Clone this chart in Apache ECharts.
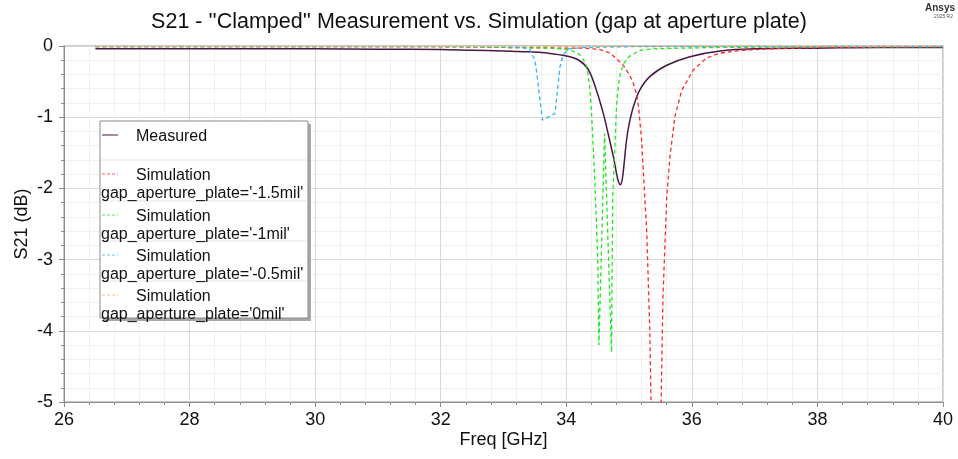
<!DOCTYPE html>
<html><head><meta charset="utf-8">
<script src="https://cdn.jsdelivr.net/npm/echarts@6/dist/echarts.min.js"></script>
<style>html,body{margin:0;padding:0;background:#fff}#c{width:958px;height:459px}</style>
</head><body><div id="c"></div>
<script>
const chartTitle = "S21 - ''Clamped'' Measurement vs. Simulation (gap at aperture plate)";
const xAxisName = "Freq [GHz]";
const yAxisName = "S21 (dB)";
const seriesNames = ["Measured", "gap_aperture_plate='-1.5mil'", "gap_aperture_plate='-1mil'", "gap_aperture_plate='-0.5mil'", "gap_aperture_plate='0mil'"];
const legendFirstLines = ["Measured", "Simulation", "Simulation", "Simulation", "Simulation"];
const seriesColors = ["#4a1846", "#ff2a2a", "#1ee81e", "#33b5ee", "#f5ad5f"];

const measFreq = [26.5, 27, 28, 29, 30, 31, 32, 32.5, 33, 33.4, 33.7, 34.0, 34.2, 34.35, 34.48, 34.59, 34.69, 34.76, 34.80, 34.83, 34.86, 34.89, 34.92, 34.96, 35.0, 35.07, 35.17, 35.33, 35.6, 35.97, 36.45, 37, 38, 39, 40];
const measS21 = [-0.04, -0.04, -0.04, -0.04, -0.04, -0.045, -0.05, -0.06, -0.07, -0.08, -0.1, -0.14, -0.2, -0.33, -0.62, -0.95, -1.32, -1.6, -1.79, -1.9, -1.95, -1.88, -1.66, -1.32, -1.1, -0.85, -0.62, -0.43, -0.27, -0.15, -0.07, -0.04, -0.03, -0.02, -0.02];

const sim15Freq = [26.5, 28, 30, 32, 33, 34, 34.3, 34.54, 34.7, 34.8, 34.9, 34.96, 35.02, 35.07, 35.12, 35.15, 35.2, 35.25, 35.28, 35.33, 35.43, 35.54, 35.6, 35.65, 35.73, 35.84, 36.02, 36.23, 36.45, 36.8, 37.5, 38.5, 40];
const sim15S21 = [-0.01, -0.01, -0.01, -0.01, -0.02, -0.03, -0.03, -0.05, -0.1, -0.18, -0.26, -0.34, -0.43, -0.53, -0.68, -0.85, -1.32, -2.12, -2.58, -3.99, -9, -3.52, -2.12, -1.56, -0.99, -0.62, -0.34, -0.17, -0.1, -0.06, -0.03, -0.02, -0.01];

const sim10Freq = [26.5, 28, 30, 32, 33, 33.8, 34.0, 34.1, 34.2, 34.28, 34.33, 34.37, 34.40, 34.45, 34.50, 34.52, 34.61, 34.72, 34.74, 34.77, 34.80, 34.83, 34.86, 34.91, 35.0, 35.17, 35.4, 35.8, 36.5, 38, 40];
const sim10S21 = [-0.01, -0.01, -0.01, -0.01, -0.02, -0.03, -0.05, -0.07, -0.11, -0.2, -0.3, -0.55, -0.9, -1.79, -2.96, -4.2, -1.23, -4.3, -2.12, -1.5, -0.85, -0.55, -0.39, -0.25, -0.15, -0.06, -0.04, -0.03, -0.02, -0.01, -0.01];

const sim05Freq = [26.5, 28, 30, 32, 33, 33.3, 33.42, 33.5, 33.53, 33.62, 33.82, 33.9, 33.95, 34.03, 34.3, 35, 36, 38, 40];
const sim05S21 = [-0.01, -0.01, -0.01, -0.01, -0.01, -0.02, -0.05, -0.2, -0.38, -1.04, -0.95, -0.29, -0.13, -0.04, -0.02, -0.01, -0.01, -0.01, -0.01];

const sim00Freq = [26.5, 28, 30, 32, 34, 36, 38, 40];
const sim00S21 = [-0.005, -0.005, -0.005, -0.005, -0.005, -0.005, -0.005, -0.005];

const zip = (xs, ys) => xs.map((x, i) => [x, ys[i]]);
const seriesData = [zip(measFreq, measS21), zip(sim15Freq, sim15S21), zip(sim10Freq, sim10S21), zip(sim05Freq, sim05S21), zip(sim00Freq, sim00S21)];

const FONT = "'Liberation Sans', Arial, sans-serif";
const dash = [4, 3];

const series = seriesData.map((d, i) => ({
  name: seriesNames[i], type: 'line', data: d, showSymbol: false, symbol: 'none', clip: true,
  animation: false, z: 2 + i,
  smooth: i === 0 ? 0.35 : false,
  lineStyle: { color: seriesColors[i], width: i === 0 ? 1.5 : 1.3, type: i === 0 ? 'solid' : dash }
}));

// legend built as graphic
const lg = { x: 100, y: 121, w: 208, h: 197 };
const rowTops = [121, 160, 201, 241, 281];
const graphics = [
  { type: 'rect', shape: { x: lg.x + 3, y: lg.y + 3, width: lg.w, height: lg.h }, style: { fill: '#a8a8a8' }, z: 100 },
  { type: 'rect', shape: { x: lg.x, y: lg.y, width: lg.w, height: lg.h }, style: { fill: '#fff', stroke: '#8a8a8a', lineWidth: 1 }, z: 101 }
];
rowTops.slice(1).forEach(t => graphics.push({ type: 'line', shape: { x1: lg.x + 1, y1: t, x2: lg.x + lg.w - 1, y2: t }, style: { stroke: '#e4e4e4', lineWidth: 1 }, z: 102 }));
seriesNames.forEach((n, i) => {
  const y1 = rowTops[i] + 15;
  graphics.push({ type: 'line', shape: { x1: lg.x + 2, y1: y1 - 1, x2: lg.x + 18, y2: y1 - 1 }, style: { stroke: seriesColors[i], lineWidth: 1, lineDash: i === 0 ? null : [3, 2], opacity: i === 0 ? 1 : 0.75 }, z: 103 });
  graphics.push({ type: 'text', x: lg.x + 36, y: y1 + 1, style: { text: legendFirstLines[i], font: "16px " + FONT, fill: '#111', verticalAlign: 'middle' }, z: 103 });
  if (i > 0) graphics.push({ type: 'text', x: lg.x + 1, y: y1 + 19, style: { text: n, font: "16px " + FONT, fill: '#111', verticalAlign: 'middle' }, z: 103 });
});
graphics.push({ type: 'text', x: 955, y: 3, style: { text: 'Ansys', font: "bold 10px " + FONT, fill: '#333', align: 'right' }, z: 103 });
graphics.push({ type: 'text', x: 953, y: 14, style: { text: '2025 R2', font: "5px " + FONT, fill: '#555', align: 'right' }, z: 103 });

const axisGray = '#8c8c8c';
const chart = echarts.init(document.getElementById('c'), null, { renderer: 'canvas' });
chart.setOption({
  animation: false,
  backgroundColor: '#fff',
  title: { text: chartTitle, left: 'center', top: 6, textStyle: { fontFamily: FONT, fontSize: 21.5, fontWeight: 'normal', color: '#111' } },
  grid: { left: 64, right: 15, top: 46, bottom: 57, show: true, borderColor: '#b8b8b8', borderWidth: 1.5, backgroundColor: 'transparent' },
  xAxis: {
    type: 'value', min: 26, max: 40, interval: 2,
    name: xAxisName, nameLocation: 'middle', nameGap: 29, nameMoveOverlap: false,
    nameTextStyle: { fontFamily: FONT, fontSize: 18, color: '#111' },
    axisLine: { show: true, onZero: false, lineStyle: { color: axisGray } },
    axisTick: { show: true, length: 5, lineStyle: { color: axisGray } },
    minorTick: { show: true, splitNumber: 5, length: 3, lineStyle: { color: axisGray } },
    splitLine: { show: true, lineStyle: { color: '#dadada' } },
    minorSplitLine: { show: true, lineStyle: { color: '#f0f0f0' } },
    axisLabel: { fontFamily: FONT, fontSize: 18, color: '#111', margin: 9 }
  },
  yAxis: {
    type: 'value', min: -5, max: 0, interval: 1,
    name: yAxisName, nameLocation: 'middle', nameGap: 33, nameRotate: 90, nameMoveOverlap: false,
    nameTextStyle: { fontFamily: FONT, fontSize: 18, color: '#111' },
    axisLine: { show: true, onZero: false, lineStyle: { color: axisGray } },
    axisTick: { show: true, length: 5, lineStyle: { color: axisGray } },
    minorTick: { show: true, splitNumber: 5, length: 3, lineStyle: { color: axisGray } },
    splitLine: { show: true, lineStyle: { color: '#dadada' } },
    minorSplitLine: { show: true, lineStyle: { color: '#f0f0f0' } },
    axisLabel: { fontFamily: FONT, fontSize: 18, color: '#111', margin: 11 }
  },
  series: series,
  graphic: graphics
});
</script></body></html>
